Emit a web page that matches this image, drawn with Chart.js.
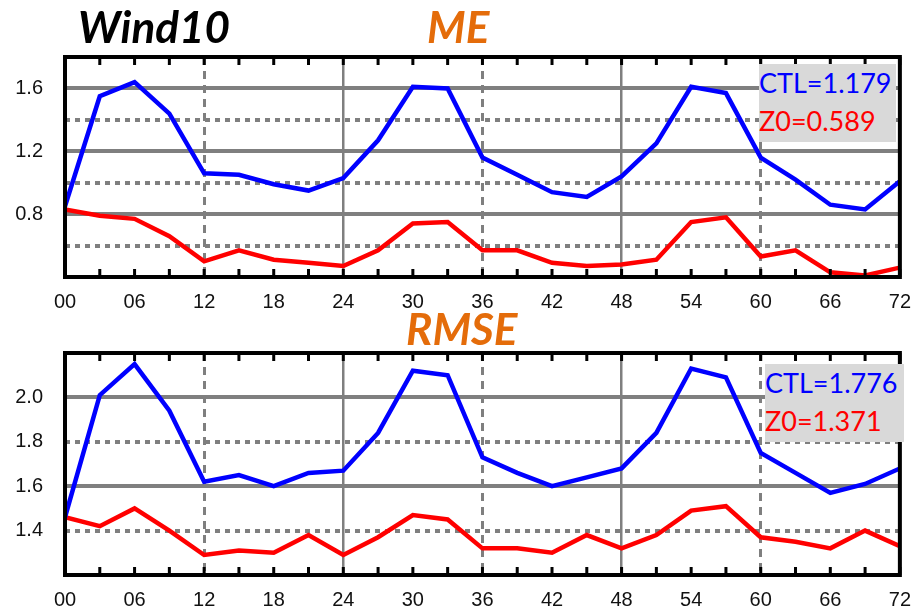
<!DOCTYPE html>
<html>
<head>
<meta charset="utf-8">
<script src="https://cdn.jsdelivr.net/npm/chart.js@4/dist/chart.umd.min.js"></script>
<style>
  body { margin: 0; background: #fff; width: 924px; height: 610px; position: relative; overflow: hidden; }
  .panel { position: absolute; left: 0; width: 924px; }
  .title { position: absolute; font-family: Lato, 'Open Sans', sans-serif; font-weight: 700; font-style: italic; font-size: 44px; line-height: 44px; white-space: nowrap; }
  .stats { position: absolute; background: #d9d9d9; font-family: Lato, 'Open Sans', sans-serif; font-size: 27px; line-height: 38px; white-space: nowrap; }
</style>
</head>
<body>
<div class="panel" style="top:0;height:320px"><canvas id="me" width="924" height="320"></canvas></div>
<div class="panel" style="top:300px;height:310px"><canvas id="rmse" width="924" height="310"></canvas></div>

<div class="title" style="left:78px;top:4px;color:#000">Wind10</div>
<div class="title" style="left:427px;top:4px;color:#e46c0a">ME</div>
<div class="title" style="left:406px;top:306px;color:#e46c0a">RMSE</div>

<div class="stats" style="left:759px;top:64px;width:137px;height:78px">
  <div style="color:#0000ff">CTL=1.179</div>
  <div style="color:#ff0000">Z0=0.589</div>
</div>
<div class="stats" style="left:765px;top:364px;width:139px;height:78px">
  <div style="color:#0000ff">CTL=1.776</div>
  <div style="color:#ff0000">Z0=1.371</div>
</div>

<script>
// forecast lead time (h)
const hours = [0, 3, 6, 9, 12, 15, 18, 21, 24, 27, 30, 33, 36, 39, 42, 45, 48, 51, 54, 57, 60, 63, 66, 69, 72]
const hourLabels = ['00', '06', '12', '18', '24', '30', '36', '42', '48', '54', '60', '66', '72']

// 10 m wind mean error
const meCtl = [0.85, 1.55, 1.64, 1.44, 1.06, 1.05, 0.99, 0.95, 1.03, 1.27, 1.61, 1.60, 1.16, 1.05, 0.94, 0.91, 1.04, 1.25, 1.61, 1.57, 1.16, 1.02, 0.86, 0.83, 1.01]
const meZ0 = [0.83, 0.79, 0.77, 0.66, 0.50, 0.57, 0.51, 0.49, 0.47, 0.57, 0.74, 0.75, 0.57, 0.57, 0.49, 0.47, 0.48, 0.51, 0.75, 0.78, 0.53, 0.57, 0.43, 0.41, 0.46]
const meTicks = ['1.6', '1.2', '0.8']

// 10 m wind root mean square error
const rmseCtl = [1.46, 2.01, 2.15, 1.94, 1.62, 1.65, 1.60, 1.66, 1.67, 1.84, 2.12, 2.10, 1.73, 1.66, 1.60, 1.64, 1.68, 1.84, 2.13, 2.09, 1.75, 1.66, 1.57, 1.61, 1.68]
const rmseZ0 = [1.46, 1.42, 1.50, 1.40, 1.29, 1.31, 1.30, 1.38, 1.29, 1.37, 1.47, 1.45, 1.32, 1.32, 1.30, 1.38, 1.32, 1.38, 1.49, 1.51, 1.37, 1.35, 1.32, 1.40, 1.33]
const rmseTicks = ['2.0', '1.8', '1.6', '1.4']

// black frame with short tick marks every 3 h along top and bottom
const framePlugin = {
  id: 'frame',
  afterDraw(chart) {
    const { ctx, chartArea: a, scales } = chart
    ctx.save()
    ctx.strokeStyle = '#000'
    ctx.lineWidth = 3
    ctx.setLineDash([])
    hours.forEach((h) => {
      const px = scales.x.getPixelForValue(h)
      ctx.beginPath()
      ctx.moveTo(px, a.top)
      ctx.lineTo(px, a.top + 8)
      ctx.moveTo(px, a.bottom)
      ctx.lineTo(px, a.bottom - 8)
      ctx.stroke()
    })
    ctx.lineWidth = 4
    ctx.strokeRect(a.left, a.top, a.right - a.left, a.bottom - a.top)
    ctx.restore()
  },
}

const makeChart = (id, ctl, z0, yMin, yMax, yTicks, plotTop, plotBottom, height) => {
  const series = (vals) => hours.map((h, i) => ({ x: h, y: vals[i] }))
  return new Chart(document.getElementById(id), {
    type: 'line',
    data: {
      datasets: [
        { data: series(ctl), borderColor: '#0000ff', borderWidth: 4.5, pointRadius: 0, tension: 0 },
        { data: series(z0), borderColor: '#ff0000', borderWidth: 4.5, pointRadius: 0, tension: 0 },
      ],
    },
    options: {
      responsive: false,
      animation: false,
      devicePixelRatio: 1,
      layout: { padding: { top: plotTop, right: 18, left: 0, bottom: 0 } },
      plugins: { legend: { display: false }, tooltip: { enabled: false } },
      scales: {
        x: {
          type: 'linear',
          min: 0,
          max: 72,
          afterFit: (s) => { s.height = height - plotBottom },
          ticks: {
            stepSize: 3,
            autoSkip: false,
            maxRotation: 0,
            padding: 13,
            color: '#111',
            font: { family: 'Liberation Sans', size: 20 },
            callback: (v) => (v % 6 === 0 ? hourLabels[v / 6] : ''),
          },
          grid: {
            drawTicks: false,
            color: '#7f7f7f',
            lineWidth: (c) => {
              const v = c.tick ? c.tick.value : 0
              if (v % 12 !== 0 || v === 0 || v === 72) return 0
              return v % 24 === 0 ? 2.5 : 3
            },
          },
          border: {
            display: false,
            dash: (c) => (c.tick && c.tick.value % 24 === 0 ? [] : [8, 6]),
          },
        },
        y: {
          min: yMin,
          max: yMax,
          afterFit: (s) => { s.width = 65 },
          ticks: {
            stepSize: 0.2,
            padding: 22,
            color: '#111',
            font: { family: 'Liberation Sans', size: 20 },
            callback: (v) => (yTicks.includes(v.toFixed(1)) ? v.toFixed(1) : ''),
          },
          grid: {
            drawTicks: false,
            color: '#7f7f7f',
            lineWidth: (c) => (c.tick && c.tick.value > yMin + 0.01 && c.tick.value < yMax - 0.01 ? 4 : 0),
          },
          border: {
            display: false,
            dash: (c) => (c.tick && Math.round(c.tick.value * 10) % 4 === 0 ? [] : [5, 5]),
          },
        },
      },
    },
    plugins: [framePlugin],
  })
}

makeChart('me', meCtl, meZ0, 0.4, 1.8, meTicks, 57, 277, 320)
makeChart('rmse', rmseCtl, rmseZ0, 1.2, 2.2, rmseTicks, 53, 275, 310)
</script>
</body>
</html>
